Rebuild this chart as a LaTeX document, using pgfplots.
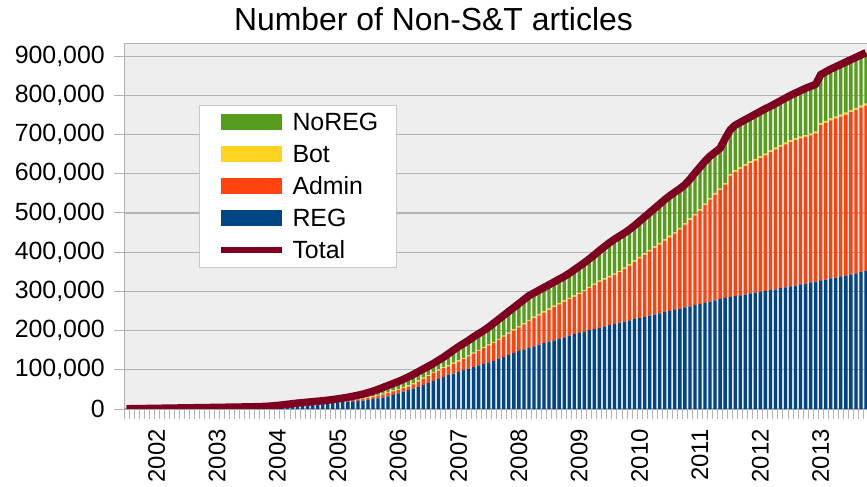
\documentclass[border=0pt]{standalone}
\usepackage{fontspec}
\setmainfont{Liberation Sans}
\usepackage{pgfplots}
\usepackage{pgfplotstable}
\pgfplotsset{compat=1.18}
\definecolor{cREG}{HTML}{004586}
\definecolor{cAdmin}{HTML}{FF420E}
\definecolor{cBot}{HTML}{FFD320}
\definecolor{cNoREG}{HTML}{579D1C}
\definecolor{cTotal}{HTML}{7E0021}
\definecolor{bgc}{HTML}{EEEEEE}
\definecolor{gridc}{HTML}{B3B3B3}
\definecolor{legc}{HTML}{C8C8C8}
% values in thousands of articles; i = month index (0 = Jul 2001)
\pgfplotstableread{
i REG Admin Bot NoREG Total
0 0.35 0.05 0 0.10 0.5
1 0.5 0.05 0 0.15 0.7
2 0.6 0.1 0 0.2 0.9
3 0.8 0.1 0 0.2 1.1
4 0.9 0.1 0 0.3 1.3
5 1.0 0.15 0 0.35 1.5
6 1.2 0.15 0 0.35 1.7
7 1.3 0.2 0 0.4 1.9
8 1.5 0.2 0 0.4 2.1
9 1.6 0.2 0 0.5 2.3
10 1.8 0.2 0 0.5 2.5
11 1.9 0.25 0 0.55 2.7
12 2.0 0.3 0 0.6 2.9
13 2.2 0.3 0 0.6 3.1
14 2.3 0.3 0 0.7 3.3
15 2.5 0.3 0 0.7 3.5
16 2.6 0.35 0 0.75 3.7
17 2.7 0.4 0 0.8 3.9
18 2.9 0.4 0 0.8 4.1
19 3.0 0.4 0 0.9 4.3
20 3.2 0.4 0 0.9 4.5
21 3.3 0.45 0 0.95 4.7
22 3.4 0.5 0 1.0 4.9
23 3.6 0.5 0 1.0 5.1
24 3.7 0.5 0 1.1 5.3
25 3.9 0.55 0 1.15 5.6
26 4.1 0.6 0 1.2 5.9
27 4.4 0.6 0 1.3 6.3
28 4.8 0.7 0 1.4 6.9
29 5.5 0.8 0 1.5 7.8
30 6.3 0.9 0 1.8 9.0
31 7.3 1.0 0 2.2 10.5
32 8.3 1.1 0 2.6 12.0
33 9.3 1.2 0 3.0 13.5
34 10.3 1.3 0 3.4 15.0
35 11.0 1.4 0 3.8 16.2
36 11.8 1.5 0.2 3.9 17.4
37 12.5 1.6 0.3 4.2 18.6
38 13.3 1.7 0.4 4.4 19.8
39 14.0 1.8 0.5 4.7 21.0
40 14.8 1.9 0.6 5.1 22.4
41 15.6 2.0 0.7 5.7 24.0
42 16.5 2.3 0.8 6.2 25.8
43 17.5 2.5 0.9 6.9 27.8
44 18.5 3.0 1.0 7.5 30.0
45 19.5 3.5 1.1 8.4 32.5
46 20.5 4.0 1.2 9.3 35.0
47 21.5 4.5 1.3 10.7 38.0
48 23 5 1.5 12 41.5
49 25 6 1.6 12.9 45.5
50 27 7 1.8 14.2 50
51 29 8 2.0 16 55
52 32 9 2.2 16.8 60
53 36 9 2.4 17.6 65
54 40 9 2.6 18.4 70
55 44 9 2.8 19.7 75.5
56 48 9 3 21.5 81.5
57 52 11 3 22 88
58 56 14 3 22 95
59 61 16 3 22 102
60 66 18 3 22 109
61 72 20 3 21 116
62 77 21 3 23 124
63 82 22 3 25 132
64 87 22 3 29 141
65 90 25 3 32 150
66 95 26 3 35 159
67 99 28 3 37 167
68 103 31 3 38 175
69 107 34 3 40 184
70 111 37 3 41 192
71 115 40 3 42 200
72 119 43 3 44 209
73 123 45 3 48 219
74 128 48 3 50 229
75 133 51 3 52 239
76 138 54 3 54 249
77 143 57 3 56 259
78 148 60 3 58 269
79 152 64 3 60 279
80 156 68 3.5 61.5 289
81 160 72 3.5 60.5 296
82 164 75 3.5 60.5 303
83 168 78 3.5 60.5 310
84 172 81 3.5 60.5 317
85 175 85 3.5 60.5 324
86 179 88 3.5 60.5 331
87 183 91 3.5 60.5 338
88 187 93 3.5 62.5 346
89 191 95 3.5 65.5 355
90 194 99 3.5 67.5 364
91 197 103 3.5 69.5 373
92 201 107 3.5 71.5 383
93 204 112 3.5 73.5 393
94 207 117 3.5 76.5 404
95 211 119 3.5 80.5 414
96 214 122 3.5 84.5 424
97 217 125 3.5 87.5 433
98 220 129 3.5 88.5 441
99 223 134 3.5 88.5 449
100 226 140 4 88 458
101 229 146 4 89 468
102 232 152 4 91 479
103 235 158 4 93 490
104 238 164 4 95 501
105 241 170 4 97 512
106 244 176 4 99 523
107 247 182 4 101 534
108 250 188 4 102 544
109 253 194 4 102 553
110 256 202 4 100 562
111 259 211 4 98 572
112 262 220 4 100 586
113 265 229 4 104 602
114 268 238 4 107 617
115 271 249 4 108 632
116 274 260 4 107 645
117 277 270 4 104 655
118 280 278 4 103 665
119 283 289 4 114 690
120 286 309 4.5 112.5 712
121 288 317 4.5 114.5 724
122 290 322 4.5 114.5 731
123 292 328 4.5 113.5 738
124 295 332 4.5 113.5 745
125 297 336 4.5 114.5 752
126 299 341 4.5 114.5 759
127 301 346 4.5 114.5 766
128 303 352 4.5 112.5 772
129 305 357 4.5 112.5 779
130 308 361 4.5 112.5 786
131 310 365 4.5 113.5 793
132 313 368 4.5 114.5 800
133 315 371 4.5 115.5 806
134 318 372 4.5 117.5 812
135 320 374 4.5 119.5 818
136 323 375 4.5 120.5 823
137 325 378 4.5 120.5 828
138 328 396 5 124 853
139 330 400 5 125 860
140 333 403 5 126 867
141 335 406 5 127 873
142 338 408 5 128 879
143 340 411 5 129 885
144 343 414 5 129 891
145 346 417 5 129 897
146 349 420 5 129 903
147 352 422 5 130 909
}\datatable

\pgfplotsset{
  common/.style={
    scale only axis, width=745bp, height=365bp,
    at={(124bp,78bp)}, anchor=south west,
    xmin=-0.5, xmax=147.6, ymin=0, ymax=931,
  },
  barleg/.style={legend image code/.code={\fill[##1] (0bp,-8bp) rectangle (61bp,8bp);}},
  lineleg/.style={legend image code/.code={\draw[##1] (0bp,0bp) -- (61bp,0bp);}},
}

\begin{document}
\begin{tikzpicture}
\useasboundingbox (0,0) rectangle (867bp,487bp);
\begin{axis}[common, ybar stacked, bar width=3.3bp,
  axis background/.style={fill=bgc},
  axis line style={draw=gridc, line width=1bp},
  ymajorgrids, grid style={draw=gridc, line width=1.2bp},
  ytick={0,100,...,900},
  yticklabels={0,{100,000},{200,000},{300,000},{400,000},{500,000},{600,000},{700,000},{800,000},{900,000}},
  xtick={6,18,...,138},
  xticklabels={2002,2003,2004,2005,2006,2007,2008,2009,2010,2011,2012,2013},
  minor xtick={-0.5,0.5,...,147.5},
  xtick pos=bottom, ytick pos=left,
  tick align=outside, major tick length=10bp, minor tick length=10bp,
  tick style={draw=gridc, line width=1bp},
  major x tick style={draw=none},
  yticklabel style={font=\fontsize{25}{25}\selectfont, inner sep=0pt, anchor=east},
  xticklabel style={font=\fontsize{24}{24}\selectfont, inner sep=0pt, rotate=90, anchor=east},
  xticklabel shift=10bp, yticklabel shift=9bp,
]
\addplot[fill=cREG, draw=none] table[x=i,y=REG]{\datatable};
\addplot[fill=cAdmin, draw=none] table[x=i,y=Admin]{\datatable};
\addplot[fill=cBot, draw=none] table[x=i,y=Bot]{\datatable};
\addplot[fill=cNoREG, draw=none] table[x=i,y=NoREG]{\datatable};
\end{axis}
\begin{axis}[common, hide axis,
  legend cell align=left,
  legend style={at={(axis description cs:0.10067,0.83288)}, anchor=north west,
    draw=legc, line width=1bp, fill=white, inner xsep=18bp, inner ysep=8bp,
    row sep=14bp, column sep=8bp, font=\fontsize{25}{25}\selectfont,
    nodes={inner sep=0pt, text height=17bp, text depth=1bp}},
]
\addlegendimage{barleg, fill=cNoREG, draw=none}
\addlegendentry{NoREG}
\addlegendimage{barleg, fill=cBot, draw=none}
\addlegendentry{Bot}
\addlegendimage{barleg, fill=cAdmin, draw=none}
\addlegendentry{Admin}
\addlegendimage{barleg, fill=cREG, draw=none}
\addlegendentry{REG}
\addlegendimage{lineleg, draw=cTotal, line width=6bp}
\addlegendentry{Total}
\addplot[color=cTotal, line width=7.5bp, line join=round, sharp plot, mark=none, forget plot] table[x=i,y=Total]{\datatable};
\end{axis}
\node[anchor=base, font=\fontsize{32}{32}\selectfont] at (433.5bp,456.5bp) {Number of Non-S\&T articles};
\end{tikzpicture}
\end{document}
